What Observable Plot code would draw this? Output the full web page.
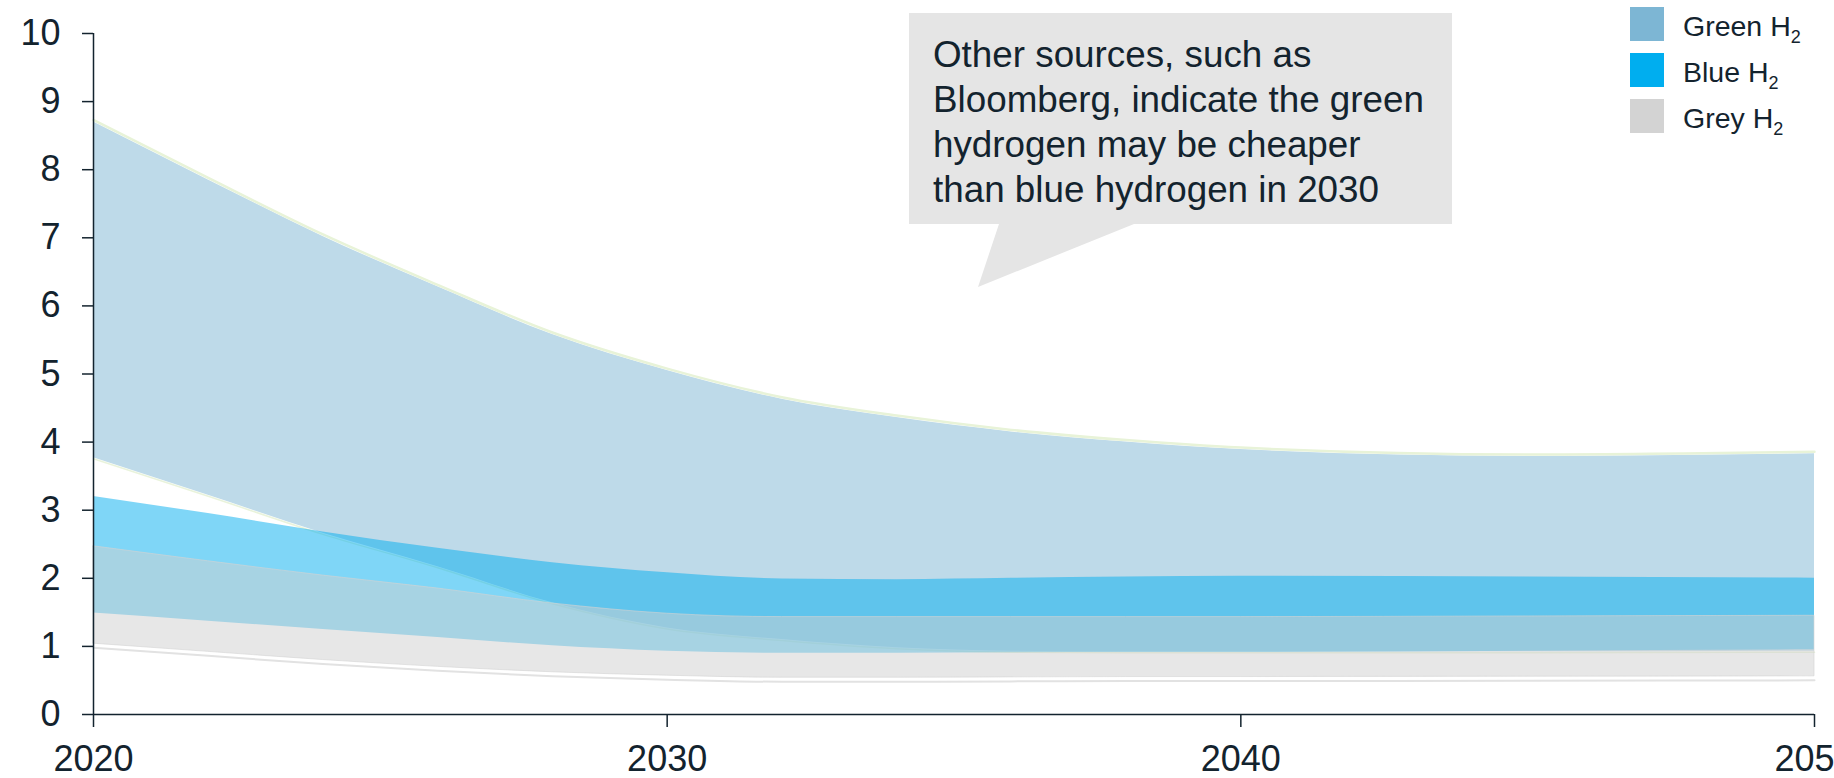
<!DOCTYPE html>
<html>
<head>
<meta charset="utf-8">
<script src="https://cdn.jsdelivr.net/npm/d3@7"></script>
<script src="https://cdn.jsdelivr.net/npm/@observablehq/plot@0.6"></script>
<style>
  html, body { margin: 0; padding: 0; background: #fff; }
  body { font-family: "Liberation Sans", Arial, sans-serif; }
  #wrap { position: relative; width: 1834px; height: 778px; overflow: hidden; }
  #wrap > svg.overlay { position: absolute; left: 0; top: 0; pointer-events: none; }
</style>
</head>
<body>
<div id="wrap"></div>
<script>
// ---- data ----
const years      = [2020, 2022, 2024, 2026, 2028, 2030, 2032, 2034, 2036, 2038, 2040, 2045, 2050];
const greenHigh  = [8.70, 7.85, 7.02, 6.28, 5.58, 5.05, 4.63, 4.36, 4.15, 4.00, 3.89, 3.79, 3.83];
const greenLow   = [3.77, 3.22, 2.66, 2.17, 1.64, 1.27, 1.10, 0.98, 0.93, 0.92, 0.92, 0.92, 0.93];
const blueHigh   = [3.20, 2.95, 2.68, 2.44, 2.23, 2.08, 1.99, 1.98, 2.00, 2.02, 2.03, 2.02, 2.00];
const blueLow    = [1.49, 1.37, 1.25, 1.13, 1.01, 0.93, 0.90, 0.90, 0.905, 0.91, 0.91, 0.93, 0.95];
const greyHigh   = [2.47, 2.25, 2.04, 1.85, 1.63, 1.48, 1.43, 1.43, 1.43, 1.43, 1.43, 1.44, 1.45];
const greyLow    = [1.04, 0.92, 0.80, 0.70, 0.62, 0.57, 0.54, 0.54, 0.545, 0.55, 0.55, 0.555, 0.56];

const xTicks = [2020, 2030, 2040, 2050];
const yTicks = [0, 1, 2, 3, 4, 5, 6, 7, 8, 9, 10];

const legendNames  = ["Green", "Blue", "Grey"];
const legendColors = ["#7db6d4", "#00aeef", "#d3d3d3"];

const calloutLines = [
  "Other sources, such as",
  "Bloomberg, indicate the green",
  "hydrogen may be cheaper",
  "than blue hydrogen in 2030"
];

// ---- build table ----
const data = years.map((year, i) => ({
  year,
  gH: greenHigh[i], gL: greenLow[i],
  bH: blueHigh[i],  bL: blueLow[i],
  rH: greyHigh[i],  rL: greyLow[i]
}));

const ink = "#13232e";
const font = "'Liberation Sans', Arial, sans-serif";
const curve = "monotone-x";

const chart = Plot.plot({
  width: 1834,
  height: 778,
  marginLeft: 93,
  marginRight: 20,
  marginTop: 33,
  marginBottom: 64,
  x: { domain: [2020, 2050], label: null },
  y: { domain: [0, 10], label: null },
  style: { fontFamily: font, color: ink, background: "transparent" },
  marks: [
    Plot.areaY(data, { x: "year", y1: "gL", y2: "gH", fill: legendColors[0], fillOpacity: 0.5, curve }),
    Plot.lineY(data, { x: "year", y: "gH", stroke: "#e8f3d8", strokeWidth: 2.5, dy: -2, curve }),
    Plot.lineY(data, { x: "year", y: "gL", stroke: "#e3f0d2", strokeWidth: 1.5, dy: 1, strokeOpacity: 0.8, curve }),
    Plot.areaY(data, { x: "year", y1: "bL", y2: "bH", fill: legendColors[1], fillOpacity: 0.5, curve }),
    Plot.areaY(data, { x: "year", y1: "rL", y2: "rH", fill: "#cfcfcf", fillOpacity: 0.5,
                       stroke: "#d4d4d4", strokeOpacity: 0.6, strokeWidth: 1, curve }),
    Plot.lineY(data, { x: "year", y: "rL", stroke: "#e2e2e2", strokeWidth: 2, dy: 4, curve }),
    Plot.ruleY([0], { stroke: ink, strokeWidth: 1.5 }),
    Plot.ruleX([2020], { stroke: ink, strokeWidth: 1.5 }),
    Plot.axisY({ ticks: yTicks, tickSize: 11, tickPadding: 22, fontSize: 36, strokeWidth: 1.5,
                 label: null, tickFormat: d => String(d) }),
    Plot.axisX({ ticks: xTicks, tickSize: 13, tickPadding: 18, fontSize: 36, strokeWidth: 1.5,
                 label: null, tickFormat: d => String(d) })
  ]
});

const wrap = document.getElementById("wrap");
wrap.appendChild(chart);

// ---- overlay: callout and legend ----
const ns = "http://www.w3.org/2000/svg";
const ov = d3.select(wrap).append("svg")
  .attr("class", "overlay")
  .attr("width", 1834).attr("height", 778)
  .attr("xmlns", ns)
  .style("font-family", font);

// callout bubble
ov.append("polygon")
  .attr("points", "909,13 1452,13 1452,224 1134,224 978,287 999,224 909,224")
  .attr("fill", "#e5e5e5");

ov.selectAll("text.callout").data(calloutLines).join("text")
  .attr("class", "callout")
  .attr("x", 933)
  .attr("y", (d, i) => 67 + i * 45)
  .attr("font-size", 36.8)
  .attr("fill", ink)
  .text(d => d);

// legend
const leg = ov.selectAll("g.leg").data(legendNames).join("g")
  .attr("class", "leg")
  .attr("transform", (d, i) => `translate(0, ${i * 46})`);

leg.append("rect")
  .attr("x", 1630).attr("y", 7)
  .attr("width", 34).attr("height", 34)
  .attr("fill", (d, i) => legendColors[i]);

const lt = leg.append("text")
  .attr("x", 1683).attr("y", 36)
  .attr("font-size", 28.5)
  .attr("fill", ink);
lt.append("tspan").text(d => d + " H");
lt.append("tspan").attr("font-size", 18).attr("dy", 7).text("2");
</script>
</body>
</html>
